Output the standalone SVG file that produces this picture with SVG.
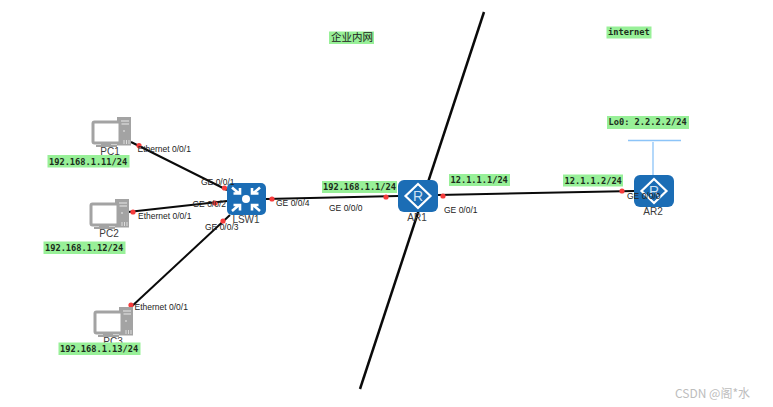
<svg xmlns="http://www.w3.org/2000/svg" xmlns:xlink="http://www.w3.org/1999/xlink" width="773" height="407" viewBox="0 0 773 407">
<style>
text{font-family:"Liberation Sans",Arial,sans-serif;font-size:8.500px;fill:#222}
.name{font-size:10px;text-anchor:middle;fill:#3c3c3c}
.m{font-family:"DejaVu Sans Mono","Liberation Mono",monospace;font-size:8.700px;fill:#1c2c1c;font-weight:bold;letter-spacing:-.02px}
.g{fill:#98f098}
.l{stroke:#0a0a0a;stroke-width:2;fill:none}
.d{fill:#f63c3c}
.blue{fill:#1b6db5}
.pcg{fill:#a3a3a3}
</style>
<defs>
<g id="pc">
<path class="pcg" d="M25 0h14v28.500h-14z"/>
<path d="M29 4h8M29 7h8M31 14h2" stroke="#e8e8e8" stroke-width="1"/>
<rect x="1" y="5" width="27" height="21" rx="1.500" fill="#fff" stroke="#a3a3a3" stroke-width="3"/>
<path class="pcg" d="M9 26h10v2h6v2H4v-2h5z"/>
<path d="M32 23v4M34.500 23v4M37 23v4" stroke="#dcdcdc" stroke-width="1"/>
</g>
<g id="router">
<rect x="0" y="0" width="40" height="32" rx="6" class="blue"/>
<path d="M20 4 32.500 16 20 28 7.500 16Z" fill="none" stroke="#fff" stroke-width="2.200"/>
<text x="20" y="21" style="font-size:14px;fill:#cfe2f3;text-anchor:middle">R</text>
</g>
</defs>
<rect width="773" height="407" fill="#fff"/>
<g id="connectors">
<line class="l" x1="131" y1="142" x2="227" y2="190"/>
<line class="l" x1="128" y1="212" x2="227" y2="201"/>
<line class="l" x1="130" y1="308" x2="230" y2="215"/>
<line class="l" x1="266" y1="199" x2="398" y2="196"/>
<line class="l" x1="438" y1="195" x2="634" y2="191"/>
<line x1="484" y1="12" x2="360" y2="389" stroke="#0a0a0a" stroke-width="2.500"/>
<path d="M628 140.500H681M653 142V175" stroke="#8cc4f8" stroke-width="1.300" fill="none"/>
<g>
<circle class="d" cx="139" cy="145.500" r="2.600"/><circle class="d" cx="224.500" cy="188" r="2.600"/>
<circle class="d" cx="133" cy="212" r="2.600"/><circle class="d" cx="215" cy="203" r="2.600"/>
<circle class="d" cx="131" cy="305" r="2.600"/><circle class="d" cx="223" cy="221" r="2.600"/>
<circle class="d" cx="272" cy="199" r="2.600"/><circle class="d" cx="386" cy="197" r="2.600"/>
<circle class="d" cx="443" cy="196" r="2.600"/><circle class="d" cx="622" cy="191" r="2.600"/>
</g>
</g>
<g id="PC1"><use xlink:href="#pc" href="#pc" x="92" y="117"/><text class="name" x="110" y="155">PC1</text>
<rect class="g" x="47.500" y="155" width="82" height="12.500"/><text class="m" x="49" y="164.500">192.168.1.11/24</text></g>
<g id="PC2"><use xlink:href="#pc" href="#pc" x="90" y="199"/><text class="name" x="109" y="237">PC2</text>
<rect class="g" x="43.500" y="241.500" width="82" height="12.500"/><text class="m" x="45" y="250.500">192.168.1.12/24</text></g>
<g id="PC3"><use xlink:href="#pc" href="#pc" x="94" y="307"/><text class="name" x="113" y="344.500">PC3</text>
<rect class="g" x="58.500" y="342.500" width="82" height="12.500"/><text class="m" x="60" y="351.500">192.168.1.13/24</text></g>
<g id="LSW1">
<rect x="227" y="183" width="39" height="32" rx="5" class="blue"/>
<circle cx="246" cy="199" r="4" fill="#fff"/>
<g stroke="#fff" stroke-width="2.600" fill="none">
<path d="M232 187.500l7 6M240 188v5.500h-6.500M260 187.500l-7 6M252 188v5.500h6.500M232 211l7-6M240 210.500v-5.500h-6.500M260 211l-7-6M252 210.500v-5.500h6.500"/>
</g>
<text class="name" x="246" y="223">LSW1</text></g>
<g id="AR1"><use xlink:href="#router" href="#router" x="398" y="180"/><text class="name" x="417" y="221">AR1</text></g>
<g id="AR2"><use xlink:href="#router" href="#router" x="634" y="175"/><text class="name" x="653" y="215">AR2</text></g>
<g id="labels">
<text x="137.500" y="152">Ethernet 0/0/1</text>
<text x="138" y="219">Ethernet 0/0/1</text>
<text x="134.500" y="310">Ethernet 0/0/1</text>
<text x="201" y="184.500">GE 0/0/1</text>
<text x="192.500" y="207">GE 0/0/2</text>
<text x="205" y="230">GE 0/0/3</text>
<text x="276" y="206">GE 0/0/4</text>
<text x="329" y="211">GE 0/0/0</text>
<text x="444" y="213">GE 0/0/1</text>
<text x="627" y="199">GE 0/0/0</text>
<rect class="g" x="322" y="181" width="75" height="12"/><text class="m" x="323" y="190">192.168.1.1/24</text>
<rect class="g" x="449" y="174" width="61" height="12"/><text class="m" x="450.500" y="183">12.1.1.1/24</text>
<rect class="g" x="563" y="174.500" width="60" height="12"/><text class="m" x="564.500" y="183.500">12.1.1.2/24</text>
<rect class="g" x="607" y="116" width="82" height="13"/><text class="m" x="608.500" y="125">Lo0: 2.2.2.2/24</text>
<rect class="g" x="329" y="31.500" width="45" height="12.500"/><text x="331" y="41" style="font-family:'Noto Sans CJK SC',sans-serif;font-size:10.500px;fill:#222">企业内网</text>
<rect class="g" x="606.500" y="26.500" width="45" height="12"/><text class="m" x="608" y="35">internet</text>
<text x="675" y="398" style="font-family:'Noto Sans CJK SC',sans-serif;font-size:12px;fill:#bdbdbd">CSDN @阁*水</text>
</g>
</svg>
